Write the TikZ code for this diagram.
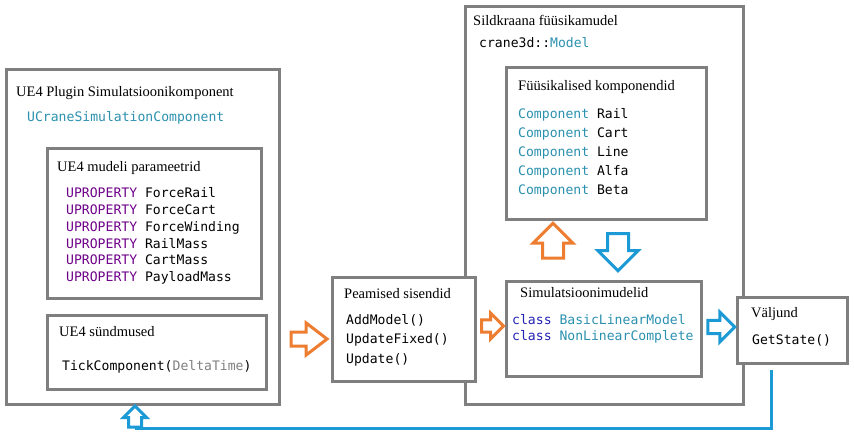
\documentclass[tikz,border=0pt]{standalone}
\usepackage{fontspec}
\setmainfont{Liberation Serif}
\newfontfamily\codefont{DejaVu Sans Mono}
\usetikzlibrary{shapes.arrows}
\definecolor{boxgray}{HTML}{7F7F7F}
\definecolor{orng}{HTML}{ED7D31}
\definecolor{blu}{HTML}{1C9AD6}
\definecolor{tealc}{HTML}{2B91AF}
\definecolor{purp}{HTML}{6F008A}
\definecolor{kwc}{HTML}{2323B5}
\definecolor{dgray}{HTML}{808080}
\begin{document}
\begin{tikzpicture}[x=1pt,y=-1pt,
  box/.style={draw=boxgray, line width=3pt, fill=white, anchor=north west, inner sep=0pt},
  ttl/.style={anchor=base west, inner sep=0pt, font=\fontsize{14.5}{16}\selectfont},
  code/.style={anchor=base west, inner sep=0pt, font=\codefont\fontsize{13.1}{15}\selectfont},
  blk/.style={shape=single arrow, fill=white, line width=3pt, inner xsep=0pt,
    single arrow head indent=0pt, minimum width=0pt, text height=0pt, text depth=0pt, text width=0pt}]
\useasboundingbox (0,0) rectangle (854,438);
\fill[white] (0,0) rectangle (854,438);

% UE4 plugin component
\node[box, minimum width=273pt, minimum height=335pt] (ue4) at (5,68) {};
\node[ttl] (t1) at (16,97) {UE4 Plugin Simulatsioonikomponent};
\node[code, text=tealc] (c1) at (27,122) {UCraneSimulationComponent};

\node[box, minimum width=214pt, minimum height=150pt] (par) at (46,147) {};
\node[ttl] (t2) at (57,172) {UE4 mudeli parameetrid};
\node[code] (p1) at (66,198) {\textcolor{purp}{UPROPERTY} ForceRail};
\node[code] (p2) at (66,215) {\textcolor{purp}{UPROPERTY} ForceCart};
\node[code] (p3) at (66,232) {\textcolor{purp}{UPROPERTY} ForceWinding};
\node[code] (p4) at (66,248.5) {\textcolor{purp}{UPROPERTY} RailMass};
\node[code] (p5) at (66,265) {\textcolor{purp}{UPROPERTY} CartMass};
\node[code] (p6) at (66,282) {\textcolor{purp}{UPROPERTY} PayloadMass};

\node[box, minimum width=219pt, minimum height=74pt] (evt) at (46,314) {};
\node[ttl] (t3) at (59,337) {UE4 sündmused};
\node[code] (e1) at (62,370) {TickComponent(\textcolor{dgray}{DeltaTime})};

% physics model
\node[box, minimum width=278pt, minimum height=398pt] (phys) at (464,5) {};
\node[ttl] (t5) at (473,26) {Sildkraana füüsikamudel};
\node[code] (c5) at (479,48) {crane3d::\textcolor{tealc}{Model}};

\node[box, minimum width=200pt, minimum height=152pt] (comp) at (505,66) {};
\node[ttl] (t6) at (518,91) {Füüsikalised komponendid};
\node[code] (k1) at (518,119) {\textcolor{tealc}{Component} Rail};
\node[code] (k2) at (518,138) {\textcolor{tealc}{Component} Cart};
\node[code] (k3) at (518,157) {\textcolor{tealc}{Component} Line};
\node[code] (k4) at (518,176) {\textcolor{tealc}{Component} Alfa};
\node[code] (k5) at (518,195) {\textcolor{tealc}{Component} Beta};

\node[box, minimum width=195pt, minimum height=95pt] (sim) at (505,280) {};
\node[ttl] (t7) at (520,298) {Simulatsioonimudelid};
\node[code] (s1) at (512,324.5) {\textcolor{kwc}{class} \textcolor{tealc}{BasicLinearModel}};
\node[code] (s2) at (512,341) {\textcolor{kwc}{class} \textcolor{tealc}{NonLinearComplete}};

% inputs
\node[box, minimum width=143pt, minimum height=104pt] (inp) at (331,276) {};
\node[ttl] (t4) at (344,299) {Peamised sisendid};
\node[code] (i1) at (346,325) {AddModel()};
\node[code] (i2) at (346,344) {UpdateFixed()};
\node[code] (i3) at (346,363) {Update()};

% output
\node[box, minimum width=110pt, minimum height=66pt] (out) at (736,296) {};
\node[ttl] (t8) at (751,317.5) {Väljund};
\node[code] (o1) at (752,344.5) {GetState()};

% block arrows
\node[blk, draw=orng, minimum height=36pt, inner ysep=5.5pt, single arrow head extend=9pt, single arrow tip angle=75] (a1) at (304.5,339) {};
\node[blk, draw=orng, minimum height=22pt, inner ysep=4.5pt, single arrow head extend=7pt, single arrow tip angle=90] (a2) at (489.5,326) {};
\node[blk, draw=blu, minimum height=27pt, inner ysep=5pt, single arrow head extend=8.5pt, single arrow tip angle=90] (a3) at (718,327) {};
\node[blk, draw=orng, rotate=90, minimum height=35pt, inner ysep=9pt, single arrow head extend=9.5pt, single arrow tip angle=90] (a4) at (553,246) {};
\node[blk, draw=blu, rotate=-90, minimum height=37pt, inner ysep=9pt, single arrow head extend=9.5pt, single arrow tip angle=90] (a5) at (618,247) {};

% feedback
\node[blk, draw=blu, rotate=90, anchor=tail, minimum height=21pt, inner ysep=5pt, single arrow head extend=5pt, single arrow tip angle=90] (fb) at (135,428.5) {};
\coordinate (fbstart) at (771,370);
\draw[blu, line width=3pt] (fbstart) |- (fb.tail);
\end{tikzpicture}
\end{document}
